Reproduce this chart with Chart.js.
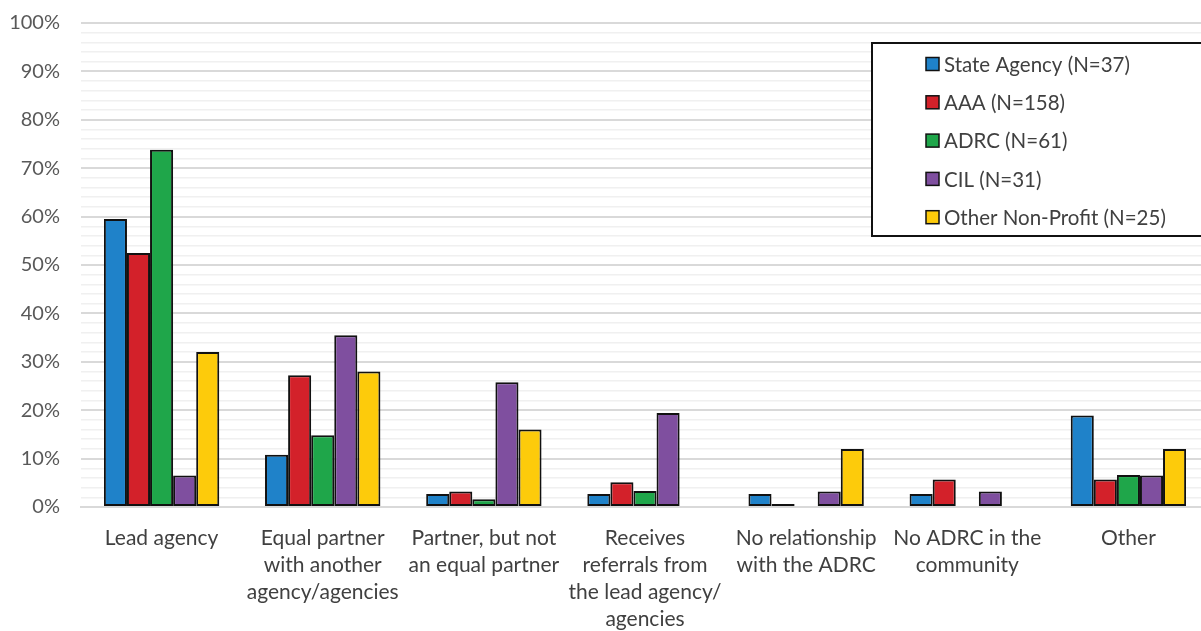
<!DOCTYPE html>
<html>
<head>
<meta charset="utf-8">
<script src="https://cdn.jsdelivr.net/npm/chart.js@4/dist/chart.umd.min.js"></script>
<style>
  html, body { margin: 0; padding: 0; background: #fff; overflow: hidden; }
  #wrap { position: relative; width: 1210px; height: 631px; }
</style>
</head>
<body>
<div id="wrap"><canvas id="c"></canvas></div>
<script>
const categories = [
  'Lead agency',
  ['Equal partner', 'with another', 'agency/agencies'],
  ['Partner, but not', 'an equal partner'],
  ['Receives', 'referrals from', 'the lead agency/', 'agencies'],
  ['No relationship', 'with the ADRC'],
  ['No ADRC in the', 'community'],
  'Other'
];
const seriesNames = ['State Agency (N=37)', 'AAA (N=158)', 'ADRC (N=61)', 'CIL (N=31)', 'Other Non-Profit (N=25)'];
const stateAgency    = [59.5, 10.8, 2.7, 2.7, 2.7, 2.7, 18.9];
const aaa            = [52.5, 27.2, 3.2, 5.1, 0.6, 5.7, 5.7];
const adrc           = [73.8, 14.8, 1.6, 3.3, 0, 0, 6.6];
const cil            = [6.5, 35.5, 25.8, 19.4, 3.2, 3.2, 6.5];
const otherNonProfit = [32.0, 28.0, 16.0, 0, 12.0, 0, 12.0];
const yTicks = [0, 10, 20, 30, 40, 50, 60, 70, 80, 90, 100];

const colors = ['#1f82c9', '#d3212a', '#1fa64a', '#7f4f9f', '#fdcb0b'];
const seriesValues = [stateAgency, aaa, adrc, cil, otherNonProfit];

const legendPlugin = {
  id: 'boxLegend',
  afterDraw(chart) {
    const ctx = chart.ctx;
    ctx.save();
    const x0 = 872, y0 = 43, w = 400, h = 193;
    ctx.fillStyle = '#fff';
    ctx.fillRect(x0, y0, w, h);
    ctx.strokeStyle = '#111';
    ctx.lineWidth = 2;
    ctx.strokeRect(x0, y0, w, h);
    ctx.font = '20.5px Lato, "Open Sans", sans-serif';
    ctx.textBaseline = 'middle';
    ctx.textAlign = 'left';
    chart.data.datasets.forEach((ds, i) => {
      const cy = 64 + i * 38.3;
      ctx.fillStyle = ds.backgroundColor;
      ctx.fillRect(926, cy - 6.5, 13, 13);
      ctx.strokeStyle = '#111';
      ctx.lineWidth = 1.5;
      ctx.strokeRect(926, cy - 6.5, 13, 13);
      ctx.fillStyle = '#404040';
      ctx.fillText(ds.label, 944, cy + 1);
    });
    ctx.restore();
  }
};

new Chart(document.getElementById('c'), {
  type: 'bar',
  data: {
    labels: categories,
    datasets: seriesNames.map((name, i) => ({
      label: name,
      data: seriesValues[i],
      backgroundColor: colors[i],
      borderColor: '#111',
      borderWidth: 2,
      borderSkipped: false,
      barPercentage: 1,
      categoryPercentage: 0.716
    }))
  },
  options: {
    responsive: true,
    maintainAspectRatio: false,
    animation: false,
    layout: { padding: { top: 23, right: 1, left: 0, bottom: 0 } },
    plugins: { legend: { display: false }, tooltip: { enabled: false } },
    scales: {
      x: {
        afterFit(scale) { scale.height = 124; },
        grid: { display: false },
        border: { display: true, color: '#d9d9d9', width: 2 },
        ticks: {
          maxRotation: 0, autoSkip: false, padding: 10,
          color: '#404040',
          font: { family: 'Lato, "Open Sans", sans-serif', size: 21, lineHeight: 1.286 }
        }
      },
      y: {
        min: 0, max: 100,
        afterFit(scale) { scale.width = 81; scale.paddingTop = 0; scale.paddingBottom = 0; },
        border: { display: false },
        afterBuildTicks(scale) {
          const t = [];
          for (let v = 0; v <= 100; v += 2) t.push({ value: v });
          scale.ticks = t;
        },
        grid: {
          drawTicks: false,
          color: c => (yTicks.includes(c.tick.value) ? '#d9d9d9' : '#f0f0f0'),
          lineWidth: c => (yTicks.includes(c.tick.value) ? 2 : 1.5)
        },
        ticks: {
          autoSkip: false,
          padding: 21,
          color: '#595959',
          font: { family: 'Lato, "Open Sans", sans-serif', size: 20 },
          callback: v => (yTicks.includes(v) ? v + '%' : '')
        }
      }
    }
  },
  plugins: [legendPlugin]
});
</script>
</body>
</html>
